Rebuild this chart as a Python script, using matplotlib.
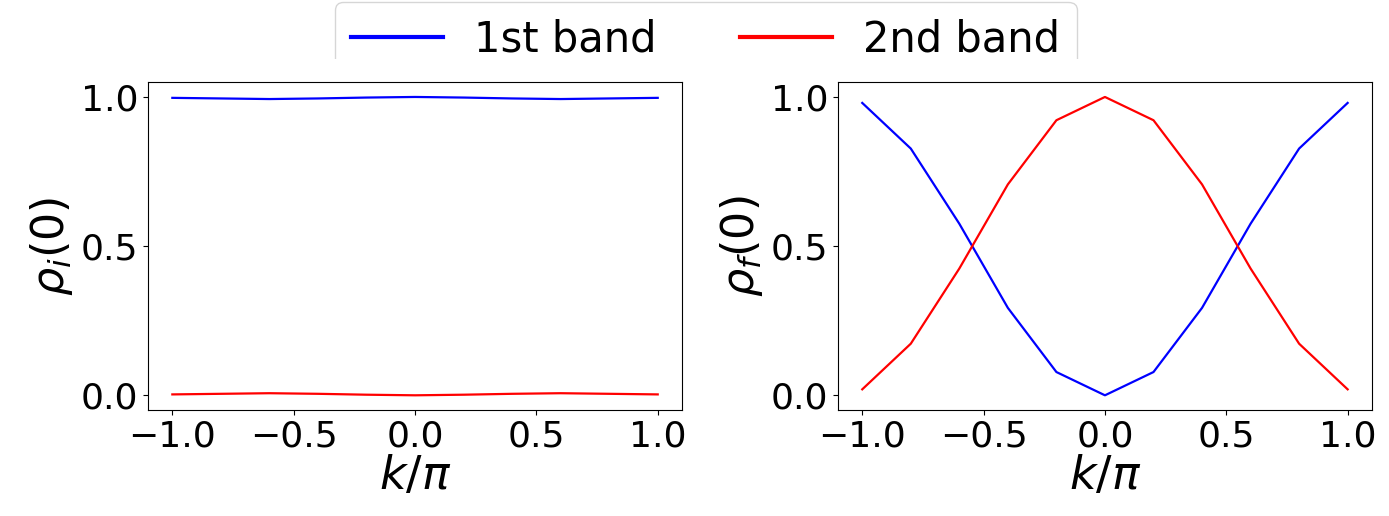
import numpy as np
import matplotlib.pyplot as plt
from matplotlib.patches import Rectangle

k = [-1.0, -0.8, -0.6, -0.4, -0.2, 0.0, 0.2, 0.4, 0.6, 0.8, 1.0]

rho_i_band1 = [0.997, 0.995, 0.993, 0.995, 0.998, 1.0, 0.998, 0.995, 0.993, 0.995, 0.997]
rho_i_band2 = [0.003, 0.005, 0.007, 0.005, 0.002, 0.0, 0.002, 0.005, 0.007, 0.005, 0.003]

rho_f_band1 = [0.980, 0.827, 0.575, 0.293, 0.078, 0.0, 0.078, 0.293, 0.575, 0.827, 0.980]
rho_f_band2 = [0.020, 0.173, 0.425, 0.707, 0.922, 1.0, 0.922, 0.707, 0.425, 0.173, 0.020]

labels = ["1st band", "2nd band"]

fig = plt.figure(figsize=(13.89, 5.16), dpi=100)

ax1 = fig.add_axes([0.1066, 0.205, 0.3844, 0.636])
ax2 = fig.add_axes([0.6033, 0.205, 0.3844, 0.636])

ax1.plot(k, rho_i_band1, color="blue", lw=1.6)
ax1.plot(k, rho_i_band2, color="red", lw=1.6)

ax2.plot(k, rho_f_band1, color="blue", lw=1.6)
ax2.plot(k, rho_f_band2, color="red", lw=1.6)

ax1.set_ylabel(r"$\rho_i(0)$", fontsize=32, labelpad=4)
ax2.set_ylabel(r"$\rho_f(0)$", fontsize=32, labelpad=4)

for ax in [ax1, ax2]:
    ax.set_xlabel(r"$k/\pi$", fontsize=33, labelpad=0)
    ax.set_xticks([-1.0, -0.5, 0.0, 0.5, 1.0])
    ax.set_yticks([0.0, 0.5, 1.0])
    ax.tick_params(labelsize=26)

handles = [
    plt.Line2D([], [], color="blue", lw=3),
    plt.Line2D([], [], color="red", lw=3),
]
fig.legend(
    handles,
    labels,
    loc="upper center",
    bbox_to_anchor=(0.508, 1.0),
    ncol=2,
    fontsize=30,
    handlelength=2.2,
    handletextpad=0.75,
    columnspacing=2.0,
    borderpad=0.4,
    borderaxespad=0.05,
)

# the bottom of the legend box is cut off in the original
fig.patches.append(
    Rectangle((0, 0.845), 1, 0.04, transform=fig.transFigure,
              facecolor="white", edgecolor="none", zorder=10)
)

fig.savefig("out.png", dpi=100)
